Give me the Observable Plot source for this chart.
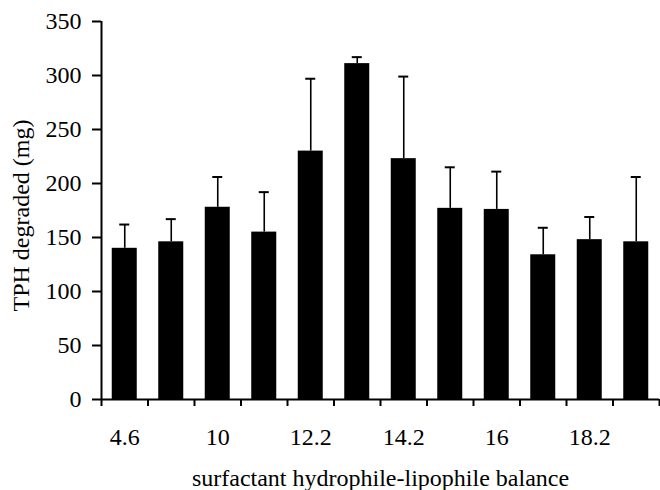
<!DOCTYPE html>
<html><head><meta charset="utf-8">
<script src="https://cdn.jsdelivr.net/npm/d3@7"></script>
<script src="https://cdn.jsdelivr.net/npm/@observablehq/plot@0.6"></script>
<style>
body{margin:0;background:#fff;} svg{display:block;}
#chart svg text{font-family:"Liberation Serif","Times New Roman",serif !important;fill:#000;}
</style>
</head><body><div id="chart"></div>
<script>
const hlbLabels = ["4.6","","10","","12.2","","14.2","","16","","18.2",""];
const tphMeans = [140, 146, 178, 155, 230, 311, 223, 177, 176, 134, 148, 146];
const tphUpper = [162, 167, 206, 192, 297, 317, 299, 215, 211, 159, 169, 206];
const yTicks = [0, 50, 100, 150, 200, 250, 300, 350];

const data = tphMeans.map((v, i) => ({i, label: hlbLabels[i], mean: v, upper: tphUpper[i]}));
const labeled = data.filter(d => d.label !== "");
const font = "Liberation Serif, Times New Roman, serif";
const fs = 24;

const chart = Plot.plot({
  width: 660, height: 490,
  marginLeft: 101, marginRight: 1, marginTop: 21, marginBottom: 91,
  style: {fontFamily: font, fontSize: fs + "px", color: "#000", background: "#fff"},
  x: {type: "linear", domain: [0, hlbLabels.length]},
  y: {domain: [0, 350]},
  marks: [
    Plot.rectY(data, {x1: d => d.i, x2: d => d.i + 1, y: "mean", fill: "#000", insetLeft: 10.75, insetRight: 10.75}),
    Plot.ruleX(data, {x: d => d.i + 0.5, y1: "mean", y2: "upper", stroke: "#000", strokeWidth: 1.6}),
    Plot.ruleY(data, {y: "upper", x1: d => d.i + 0.5, x2: d => d.i + 0.5, insetLeft: -5, insetRight: -5, stroke: "#000", strokeWidth: 2}),
    Plot.ruleX([0], {stroke: "#000", strokeWidth: 2}),
    Plot.ruleY([0], {stroke: "#000", strokeWidth: 2}),
    Plot.axisY({ticks: yTicks, tickSize: 9, tickPadding: 11, tickFormat: d => String(d), label: null, strokeWidth: 2, fontSize: fs, fontFamily: font}),
    Plot.axisX({ticks: d3.range(hlbLabels.length + 1), tickSize: 7, tickFormat: () => "", label: null, strokeWidth: 2}),
    Plot.axisX({ticks: labeled.map(d => d.i + 0.5), tickSize: 0, tickPadding: 28, tickFormat: t => hlbLabels[Math.floor(t)], label: null, fontSize: fs, fontFamily: font}),
    Plot.text(["surfactant hydrophile-lipophile balance"], {frameAnchor: "bottom", dy: 79, lineAnchor: "middle", fontSize: fs, fontFamily: font, fill: "#000", text: d => d}),
    Plot.text(["TPH degraded (mg)"], {frameAnchor: "left", textAnchor: "middle", lineAnchor: "middle", dx: -80, dy: 5, rotate: -90, fontSize: fs, fontFamily: font, fill: "#000", text: d => d})
  ]
});
document.getElementById("chart").appendChild(chart);
</script>
</body></html>
